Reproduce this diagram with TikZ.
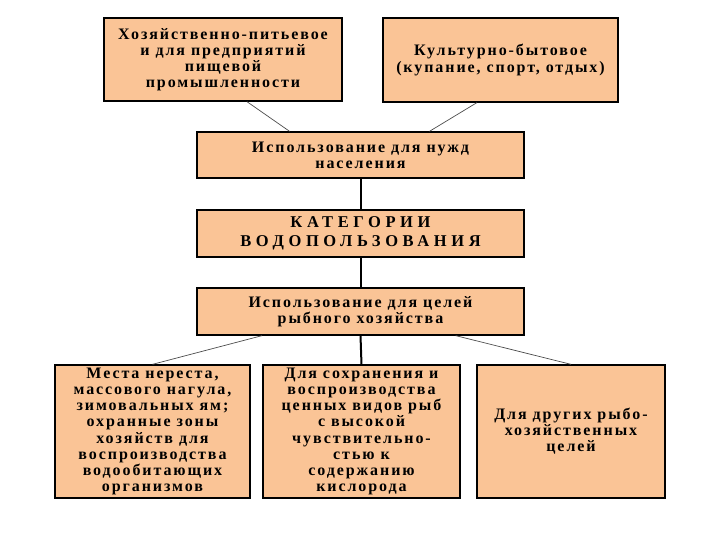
\documentclass[tikz,border=0pt]{standalone}
\usepackage{fontspec}
\setmainfont{Liberation Serif}
\newfontfamily\bx{Liberation Serif}[LetterSpace=12.0]
\newfontfamily\bxt{Liberation Serif}[LetterSpace=28.0]
\usetikzlibrary{calc}
\definecolor{peach}{RGB}{250,196,150}
\tikzset{
  box/.style={draw=black, line width=1.3pt, fill=peach, align=center, inner sep=1pt,
    font=\bx\bfseries\fontsize{16}{16.2}\selectfont},
  thin/.style={draw=black!70, line width=0.7pt},
  thick/.style={draw=black, line width=2pt}
}
\begin{document}
\begin{tikzpicture}[x=1pt,y=-1pt]
\useasboundingbox (0,0) rectangle (720,540);
\node[box, minimum width=238pt, minimum height=83pt] (hp) at (223,59.5)
  {Хозяйственно-питьевое\\и для предприятий\\пищевой\\промышленности};
\node[box, minimum width=235pt, minimum height=84pt] (kb) at (500.5,60)
  {Культурно-бытовое\\(купание, спорт, отдых)};
\node[box, minimum width=327pt, minimum height=46pt] (nn) at (360.5,155)
  {Использование для нужд\\населения};
\node[box, minimum width=327pt, minimum height=47pt,
  font=\bxt\bfseries\fontsize{16.5}{19}\selectfont] (kat) at (360.5,233.5)
  {КАТЕГОРИИ\\ВОДОПОЛЬЗОВАНИЯ};
\node[box, minimum width=327pt, minimum height=47pt] (ryb) at (360.5,311.5)
  {Использование для целей\\рыбного хозяйства};
\node[box, minimum width=195pt, minimum height=133pt] (b1) at (152.5,431.5)
  {Места нереста,\\массового нагула,\\зимовальных ям;\\охранные зоны\\хозяйств для\\воспроизводства\\водообитающих\\организмов};
\node[box, minimum width=197pt, minimum height=133pt] (b2) at (361.5,431.5)
  {Для сохранения и\\воспроизводства\\ценных видов рыб\\с высокой\\чувствительно-\\стью к\\содержанию\\кислорода};
\node[box, minimum width=188pt, minimum height=133pt] (b3) at (571,431.5)
  {\\[-6pt]Для других рыбо-\\хозяйственных\\целей};
\draw[thin] ($(hp.south west)!0.60!(hp.south east)$) -- ($(nn.north west)!0.284!(nn.north east)$);
\draw[thin] ($(kb.south west)!0.40!(kb.south east)$) -- ($(nn.north west)!0.71!(nn.north east)$);
\draw[thick] (nn.south) -- (kat.north);
\draw[thick] (kat.south) -- (ryb.north);
\draw[thick] (ryb.south) -- (b2.north);
\draw[thin] ($(ryb.south west)!0.20!(ryb.south east)$) -- (b1.north);
\draw[thin] ($(ryb.south west)!0.79!(ryb.south east)$) -- (b3.north);
\end{tikzpicture}
\end{document}
